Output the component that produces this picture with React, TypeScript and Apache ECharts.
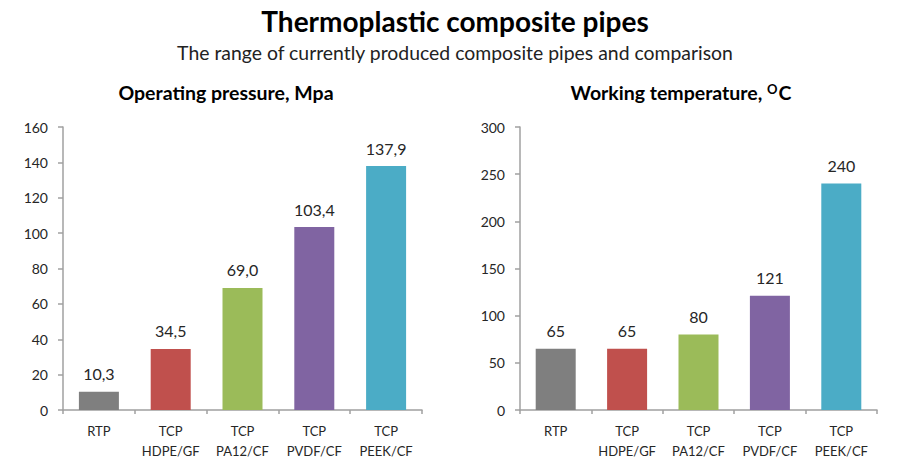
import React, { useEffect, useRef } from "react";
import * as echarts from "echarts";

const categories = ["RTP", "TCP\nHDPE/GF", "TCP\nPA12/CF", "TCP\nPVDF/CF", "TCP\nPEEK/CF"];
const pressureValues = [10.3, 34.5, 69.0, 103.4, 137.9];
const temperatureValues = [65, 65, 80, 121, 240];
const barColors = ["#7f7f7f", "#c0504d", "#9bbb59", "#8064a2", "#4bacc6"];
const pressureTicks = { min: 0, max: 160, interval: 20 };
const temperatureTicks = { min: 0, max: 300, interval: 50 };

const FONT = "Lato, 'Open Sans', sans-serif";

export default function App() {
  const ref = useRef<HTMLDivElement>(null);
  useEffect(() => {
    if (!ref.current) return;
    const chart = echarts.init(ref.current, undefined, { renderer: "svg" });
    const splitLine = {
      show: true,
      lineStyle: { color: "#a3a3a3", width: 1.5, shadowColor: "rgba(0,0,0,0.2)", shadowBlur: 2, shadowOffsetY: 2 },
    };
    const yAxisBase = {
      type: "value" as const,
      axisLine: { show: true, lineStyle: { color: "#a0a0a0", width: 1.5 } },
      axisTick: { show: true, length: 5, lineStyle: { color: "#a0a0a0", width: 1.5 } },
      axisLabel: { color: "#262626", fontSize: 14, fontFamily: FONT, margin: 15 },
      splitLine,
    };
    const xAxisBase = {
      type: "category" as const,
      data: categories,
      axisLine: { show: true, lineStyle: { color: "#a0a0a0", width: 1.5 } },
      axisTick: { show: true, length: 4, lineStyle: { color: "#a0a0a0", width: 1.5 } },
      axisLabel: { color: "#262626", fontSize: 13, fontFamily: FONT, margin: 11, lineHeight: 20, interval: 0 },
    };
    const makeData = (vals: number[]) =>
      vals.map((v, i) => ({ value: v, itemStyle: { color: barColors[i] } }));
    const labelBase = {
      show: true,
      position: "top" as const,
      distance: 10,
      color: "#262626",
      fontSize: 16,
      fontFamily: FONT,
    };
    chart.setOption({
      animation: false,
      backgroundColor: "#ffffff",
      grid: [
        { left: 63, top: 127, width: 359, height: 283 },
        { left: 520, top: 127, width: 357, height: 283 },
      ],
      xAxis: [
        { ...xAxisBase, gridIndex: 0 },
        { ...xAxisBase, gridIndex: 1 },
      ],
      yAxis: [
        { ...yAxisBase, gridIndex: 0, ...pressureTicks },
        { ...yAxisBase, gridIndex: 1, ...temperatureTicks },
      ],
      series: [
        {
          type: "bar",
          xAxisIndex: 0,
          yAxisIndex: 0,
          barWidth: 40,
          data: makeData(pressureValues),
          label: { ...labelBase, formatter: (p: any) => Number(p.value).toFixed(1).replace(".", ",") },
        },
        {
          type: "bar",
          xAxisIndex: 1,
          yAxisIndex: 1,
          barWidth: 40,
          data: makeData(temperatureValues),
          label: { ...labelBase, formatter: (p: any) => String(p.value) },
        },
      ],
      graphic: [
        {
          type: "text",
          x: 455,
          y: 21,
          style: { text: "Thermoplastic composite pipes", font: `bold 28px ${FONT}`, fill: "#000", align: "center", verticalAlign: "middle" },
        },
        {
          type: "text",
          x: 455,
          y: 52,
          style: { text: "The range of currently produced composite pipes and comparison", font: `19.4px ${FONT}`, fill: "#222", align: "center", verticalAlign: "middle" },
        },
        {
          type: "text",
          x: 226,
          y: 92,
          style: { text: "Operating pressure, Mpa", font: `bold 19.5px ${FONT}`, fill: "#000", align: "center", verticalAlign: "middle" },
        },
        {
          type: "text",
          x: 681,
          y: 92,
          style: {
            text: "{a|Working temperature, }{b|O}{a|C}",
            align: "center",
            verticalAlign: "middle",
            rich: {
              a: { font: `bold 19.5px ${FONT}`, fill: "#000" },
              b: { font: `bold 13px ${FONT}`, fill: "#000", verticalAlign: "top", padding: [0, 1, 7, 0] },
            },
          },
        },
      ],
    });
    return () => chart.dispose();
  }, []);
  return <div ref={ref} style={{ position: "fixed", left: 0, top: 0, width: 897, height: 461 }} />;
}
